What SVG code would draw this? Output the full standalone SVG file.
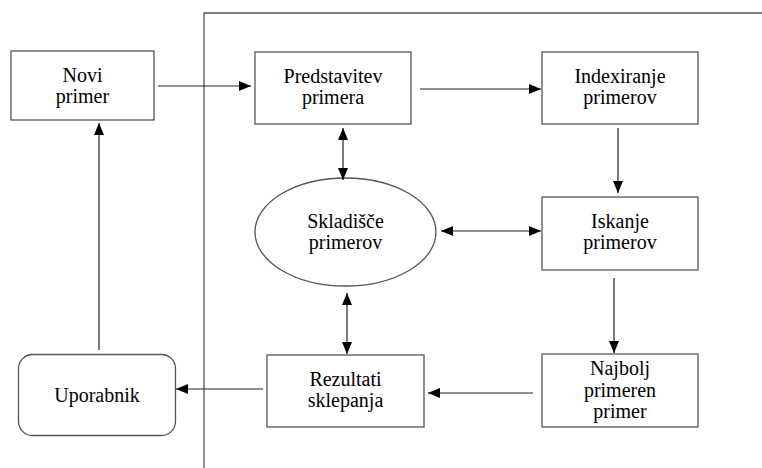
<svg xmlns="http://www.w3.org/2000/svg" width="762" height="468" viewBox="0 0 762 468">
  <defs>
    <marker id="arrow" markerUnits="userSpaceOnUse" markerWidth="13" markerHeight="11" refX="12" refY="5" orient="auto-start-reverse">
      <path d="M0,0 L12,5 L0,10 z" fill="#000"/>
    </marker>
    <style>
      .box { fill: #fff; stroke: #555; stroke-width: 1.3; }
      .frame { fill: none; stroke: #555; stroke-width: 1.3; }
      .conn { fill: none; stroke: #222; stroke-width: 1.2; }
      .one { marker-end: url(#arrow); }
      .two { marker-start: url(#arrow); marker-end: url(#arrow); }
      .lbl { font-family: "Liberation Serif", "Times New Roman", serif; font-size: 20px; fill: #000; text-anchor: middle; }
    </style>
  </defs>
  <rect width="762" height="468" fill="#fff"/>

  <!-- system boundary -->
  <path class="frame" d="M204,468 V13 H762"/>

  <g id="novi-primer">
    <rect class="box" x="11" y="51" width="143" height="69"/>
    <text class="lbl" x="82.5" y="82">Novi</text>
    <text class="lbl" x="82.5" y="103">primer</text>
  </g>

  <g id="predstavitev-primera">
    <rect class="box" x="255" y="52" width="156" height="72"/>
    <text class="lbl" x="333" y="83">Predstavitev</text>
    <text class="lbl" x="333" y="104">primera</text>
  </g>

  <g id="indexiranje-primerov">
    <rect class="box" x="542" y="52" width="156" height="72"/>
    <text class="lbl" x="620" y="83">Indexiranje</text>
    <text class="lbl" x="620" y="104">primerov</text>
  </g>

  <g id="skladisce-primerov">
    <ellipse class="box" cx="345.5" cy="232" rx="90.5" ry="54"/>
    <text class="lbl" x="345.5" y="228">Skladišče</text>
    <text class="lbl" x="345.5" y="249">primerov</text>
  </g>

  <g id="iskanje-primerov">
    <rect class="box" x="542" y="197" width="156" height="73"/>
    <text class="lbl" x="620" y="228">Iskanje</text>
    <text class="lbl" x="620" y="249">primerov</text>
  </g>

  <g id="uporabnik">
    <rect class="box" x="18.5" y="354.5" width="157" height="81" rx="14" ry="14"/>
    <text class="lbl" x="97" y="402">Uporabnik</text>
  </g>

  <g id="rezultati-sklepanja">
    <rect class="box" x="267" y="355" width="157" height="72"/>
    <text class="lbl" x="345.5" y="386">Rezultati</text>
    <text class="lbl" x="345.5" y="407">sklepanja</text>
  </g>

  <g id="najbolj-primeren-primer">
    <rect class="box" x="542" y="354" width="156" height="73"/>
    <text class="lbl" x="620" y="375">Najbolj</text>
    <text class="lbl" x="620" y="397">primeren</text>
    <text class="lbl" x="620" y="418">primer</text>
  </g>

  <g id="connectors">
    <line class="conn one" x1="158" y1="86" x2="251" y2="86"/>
    <line class="conn one" x1="420" y1="89" x2="541" y2="89"/>
    <line class="conn one" x1="618" y1="128" x2="618" y2="193"/>
    <line class="conn two" x1="343" y1="128" x2="343" y2="180"/>
    <line class="conn two" x1="441" y1="231" x2="541" y2="231"/>
    <line class="conn one" x1="614" y1="278" x2="614" y2="353"/>
    <line class="conn two" x1="347" y1="293" x2="347" y2="354"/>
    <line class="conn one" x1="533" y1="393" x2="428" y2="393"/>
    <line class="conn one" x1="263" y1="389" x2="176" y2="389"/>
    <line class="conn one" x1="99" y1="350" x2="99" y2="123"/>
  </g>
</svg>
